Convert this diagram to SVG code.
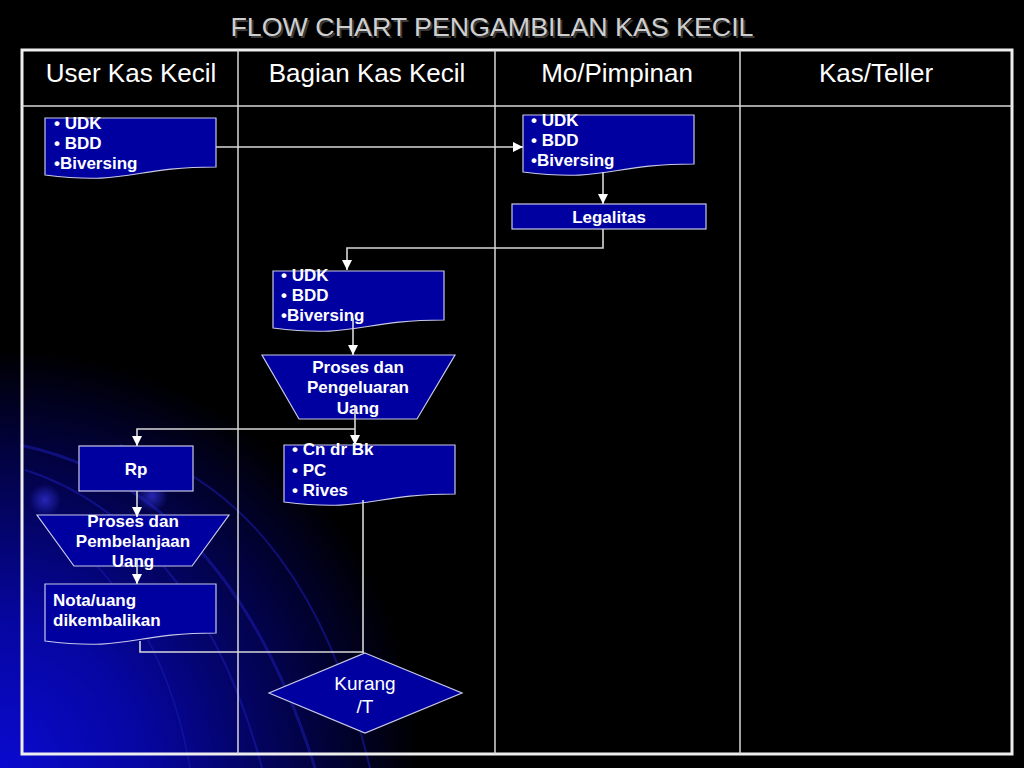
<svg xmlns="http://www.w3.org/2000/svg" width="1024" height="768" viewBox="0 0 1024 768">
<defs>
<radialGradient id="glow" cx="0" cy="768" r="420" gradientUnits="userSpaceOnUse">
<stop offset="0" stop-color="#0a0ad0"/>
<stop offset="0.35" stop-color="#0606a0"/>
<stop offset="0.75" stop-color="#020240"/>
<stop offset="1" stop-color="#000000"/>
</radialGradient>
<radialGradient id="dot" cx="0.5" cy="0.5" r="0.5">
<stop offset="0" stop-color="#2a2ac0" stop-opacity="0.9"/>
<stop offset="1" stop-color="#2a2ac0" stop-opacity="0"/>
</radialGradient>
<marker id="arr" markerUnits="userSpaceOnUse" markerWidth="10" markerHeight="10" viewBox="0 0 10 10" refX="10" refY="5" orient="auto">
<path d="M0,0 L10,5 L0,10 Z" fill="#ffffff"/>
</marker>
<style>
.shape{fill:#0000a0;stroke:#c8c8e8;stroke-width:1.2}
.t{font-family:"Liberation Sans",Arial,sans-serif;font-weight:bold;font-size:17px;fill:#ffffff}
.tc{text-anchor:middle}
.hd{font-family:"Liberation Sans",Arial,sans-serif;font-size:26px;fill:#ffffff;text-anchor:middle}
.conn{fill:none;stroke:#d8d8d8;stroke-width:1.6}
.grid{stroke:#d8d8d8;stroke-width:1.5}
.arc{fill:none;stroke:#1c1cb0;stroke-opacity:0.55}
</style>
</defs>
<rect x="0" y="0" width="1024" height="768" fill="#000000"/>
<rect x="0" y="0" width="1024" height="768" fill="url(#glow)"/>
<g id="background-arcs">
<path class="arc" stroke-width="3" d="M20,445 C140,470 250,560 315,768"/>
<path class="arc" stroke-width="2" d="M25,470 C120,500 215,590 262,768"/>
<path class="arc" stroke-width="2" d="M120,445 C250,480 330,600 370,768"/>
<path class="arc" stroke-width="1.5" d="M40,520 C110,560 170,650 190,768"/>
<circle cx="45" cy="500" r="16" fill="url(#dot)"/>
<circle cx="152" cy="496" r="16" fill="url(#dot)"/>
</g>
<g id="title">
<text x="494" y="38" font-family="'Liberation Sans',Arial,sans-serif" font-size="26" fill="#3a3a3a" text-anchor="middle" textLength="523" lengthAdjust="spacingAndGlyphs">FLOW CHART PENGAMBILAN KAS KECIL</text>
<text x="492" y="36" font-family="'Liberation Sans',Arial,sans-serif" font-size="26" fill="#cfcfcf" text-anchor="middle" textLength="523" lengthAdjust="spacingAndGlyphs">FLOW CHART PENGAMBILAN KAS KECIL</text>
</g>
<g id="table">
<rect x="22" y="50" width="990" height="704" fill="none" stroke="#eeeeee" stroke-width="3"/>
<line class="grid" x1="22" y1="106" x2="1012" y2="106" stroke-width="2.5"/>
<line class="grid" x1="238" y1="50" x2="238" y2="754"/>
<line class="grid" x1="495" y1="50" x2="495" y2="754"/>
<line class="grid" x1="740" y1="50" x2="740" y2="754"/>
<text class="hd" x="131" y="82">User Kas Kecil</text>
<text class="hd" x="367" y="82">Bagian Kas Kecil</text>
<text class="hd" x="617" y="82">Mo/Pimpinan</text>
<text class="hd" x="876" y="82">Kas/Teller</text>
</g>
<g id="doc-user">
<path class="shape" d="M45,118 H216 V167 C130.5,167 130.5,185.6 45,175 Z"/>
<text class="t" x="54" y="129">• UDK</text>
<text class="t" x="54" y="149">• BDD</text>
<text class="t" x="54" y="169">•Biversing</text>
</g>
<g id="doc-pimpinan">
<path class="shape" d="M523,115 H694 V164 C608.5,164 608.5,182.6 523,172 Z"/>
<text class="t" x="531" y="126">• UDK</text>
<text class="t" x="531" y="146">• BDD</text>
<text class="t" x="531" y="166">•Biversing</text>
</g>
<g id="legalitas">
<rect class="shape" x="512" y="204" width="194" height="25"/>
<text class="t tc" x="609" y="223">Legalitas</text>
</g>
<g id="doc-bagian">
<path class="shape" d="M273,271 H444 V320 C358.5,320 358.5,338.6 273,328 Z"/>
<text class="t" x="281" y="281">• UDK</text>
<text class="t" x="281" y="301">• BDD</text>
<text class="t" x="281" y="321">•Biversing</text>
</g>
<g id="proses-pengeluaran">
<path class="shape" d="M262,355 H455 L417,419 H299 Z"/>
<text class="t tc" x="358" y="373">Proses dan</text>
<text class="t tc" x="358" y="393">Pengeluaran</text>
<text class="t tc" x="358" y="414">Uang</text>
</g>
<g id="doc-cn">
<path class="shape" d="M284,445 H455 V494 C369.5,494 369.5,512.6 284,502 Z"/>
<text class="t" x="292" y="455">• Cn dr Bk</text>
<text class="t" x="292" y="476">• PC</text>
<text class="t" x="292" y="496">• Rives</text>
</g>
<g id="rp">
<rect class="shape" x="79" y="446" width="114" height="45"/>
<text class="t tc" x="136" y="475">Rp</text>
</g>
<g id="proses-pembelanjaan">
<path class="shape" d="M37,515 H229 L192,566 H74 Z"/>
<text class="t tc" x="133" y="527">Proses dan</text>
<text class="t tc" x="133" y="547">Pembelanjaan</text>
<text class="t tc" x="133" y="567">Uang</text>
</g>
<g id="doc-nota">
<path class="shape" d="M45,584 H216 V633 C130.5,633 130.5,651.6 45,641 Z"/>
<text class="t" x="53" y="606">Nota/uang</text>
<text class="t" x="53" y="626">dikembalikan</text>
</g>
<g id="kurang">
<path class="shape" d="M365,653 L462,693 L365,733 L269,693 Z"/>
<text x="365" y="690" font-family="'Liberation Sans',Arial,sans-serif" font-size="19" fill="#ffffff" text-anchor="middle">Kurang</text>
<text x="365" y="713" font-family="'Liberation Sans',Arial,sans-serif" font-size="19" fill="#ffffff" text-anchor="middle">/T</text>
</g>
<g id="connectors">
<path class="conn" d="M216,147 H523" marker-end="url(#arr)"/>
<path class="conn" d="M603,172 V204" marker-end="url(#arr)"/>
<path class="conn" d="M603,229 V248 H347 V270" marker-end="url(#arr)"/>
<path class="conn" d="M353,318 V355" marker-end="url(#arr)"/>
<path class="conn" d="M355,406 V445" marker-end="url(#arr)"/>
<path class="conn" d="M355,429 H137 V446" marker-end="url(#arr)"/>
<path class="conn" d="M137,491 V517" marker-end="url(#arr)"/>
<path class="conn" d="M137,558 V584" marker-end="url(#arr)"/>
<path class="conn" d="M363,500 V653"/>
<path class="conn" d="M140,641 V652 H364"/>
</g>
</svg>
